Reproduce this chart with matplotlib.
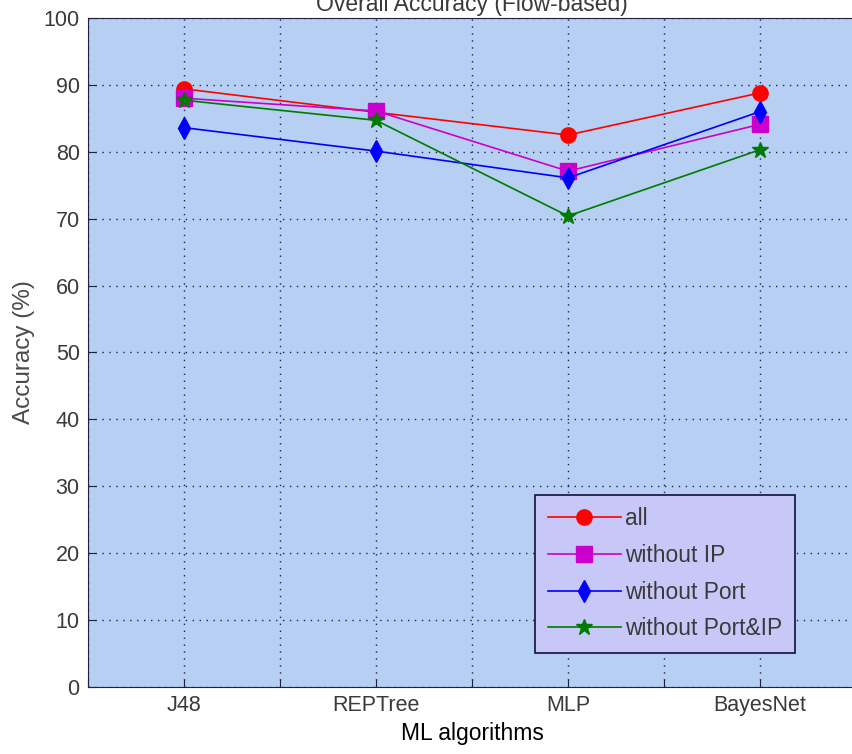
import matplotlib
matplotlib.use("Agg")
import matplotlib.pyplot as plt
import numpy as np

plt.rcParams['font.family'] = ['Liberation Sans', 'DejaVu Sans']
plt.rcParams['text.color'] = '#3a3a3a'
plt.rcParams['xtick.labelcolor'] = '#3a3a3a'
plt.rcParams['ytick.labelcolor'] = '#3a3a3a'

algorithms = ["J48", "REPTree", "MLP", "BayesNet"]
acc_all = [89.4, 85.9, 82.5, 88.8]
acc_no_ip = [88.0, 86.1, 77.1, 84.1]
acc_no_port = [83.6, 80.1, 76.1, 86.0]
acc_no_port_ip = [87.7, 84.7, 70.4, 80.3]

x = np.arange(1, len(algorithms) + 1)

fig = plt.figure(figsize=(8.53, 7.54), dpi=100)
ax = fig.add_axes([0.1032, 0.0889, 0.9003, 0.8873])
ax.set_facecolor("#b6cff2")

ax.plot(x, acc_all, "-o", color="#ff0000", lw=1.2, ms=11, label="all")
ax.plot(x, acc_no_ip, "-s", color="#cc00cc", lw=1.2, ms=11, label="without IP")
ax.plot(x, acc_no_port, "-d", color="#0000ff", lw=1.2, ms=11, label="without Port")
ax.plot(x, acc_no_port_ip, "-*", color="#007a00", lw=1.2, ms=12, label="without Port&IP")

ax.set_xlim(0.5, 4.5)
ax.set_ylim(0, 100)
xt = np.arange(0.5, 4.51, 0.5)
ax.set_xticks(xt)
ax.set_xticklabels(["" if v != int(v) else algorithms[int(v) - 1] for v in xt])
ax.set_yticks(np.arange(0, 101, 10))
ax.tick_params(direction="in", length=6, labelsize=15.5, color="#202040", pad=6)
ax.grid(True, linestyle=(0, (1, 4)), color="#202060", lw=1.0)
for s in ax.spines.values():
    s.set_color("#202040")

ax.set_xlabel("ML algorithms", fontsize=16.5, labelpad=4)
ax.set_ylabel("Accuracy (%)", fontsize=17.5, labelpad=6, color="#4a4a4a")
ax.set_title("Overall Accuracy (Flow-based)", fontsize=16.5, pad=5)

leg = ax.legend(loc="lower right", bbox_to_anchor=(0.9206, 0.0508), borderaxespad=0,
                fontsize=16.4, fancybox=False, framealpha=1, facecolor="#c8c8f8",
                edgecolor="#101040", handlelength=3.2, borderpad=0.55,
                labelspacing=0.6, handletextpad=0.2)
leg.get_frame().set_linewidth(1.2)

fig.savefig("out.png", dpi=100)
